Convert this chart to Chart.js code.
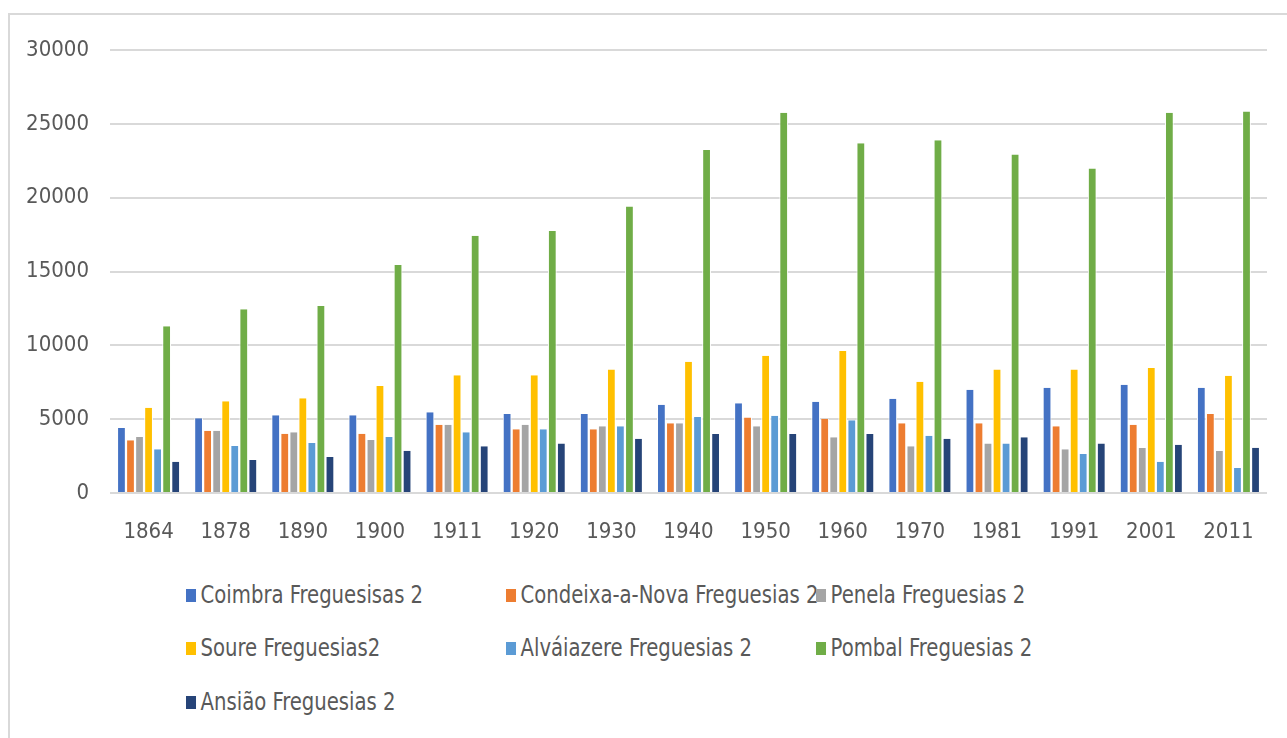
<!DOCTYPE html>
<html>
<head>
<meta charset="utf-8">
<script src="https://cdn.jsdelivr.net/npm/chart.js@4.4.1/dist/chart.umd.min.js"></script>
<style>
  body { margin: 0; background: #fff; width: 1287px; height: 738px; overflow: hidden; position: relative; }
  .frame { position: absolute; left: 8px; top: 13px; width: 1300px; height: 760px; border-left: 2px solid #d9d9d9; border-top: 2px solid #d9d9d9; }
  #wrap { position: absolute; left: 0; top: 0; width: 1287px; height: 560px; }
  .legend { position: absolute; left: 0; top: 0; }
  .legend div { position: absolute; display: flex; align-items: center; white-space: nowrap; transform: scaleX(0.91); transform-origin: left center;
    font-family: "Liberation Sans Narrow", "DejaVu Sans Condensed", sans-serif; font-size: 24px; color: #595959; }
  .legend span.box { display: inline-block; width: 11px; height: 13px; margin-right: 5px; }
</style>
</head>
<body>
<div class="frame"></div>
<div id="wrap"><canvas id="myChart"></canvas></div>
<div class="legend" id="legend"></div>
<script>
const years = ["1864", "1878", "1890", "1900", "1911", "1920", "1930", "1940", "1950", "1960", "1970", "1981", "1991", "2001", "2011"];

const coimbra = [4400, 5060, 5260, 5260, 5460, 5350, 5350, 5980, 6070, 6180, 6390, 6990, 7130, 7330, 7130];
const condeixa = [3570, 4220, 4020, 4020, 4620, 4310, 4310, 4720, 5120, 5030, 4720, 4720, 4520, 4620, 5350];
const penela = [3790, 4220, 4110, 3590, 4620, 4620, 4520, 4720, 4520, 3770, 3160, 3360, 2960, 3050, 2840];
const soure = [5780, 6210, 6410, 7240, 7970, 7970, 8370, 8890, 9300, 9610, 7540, 8370, 8370, 8460, 7940];
const alvaiazere = [2960, 3180, 3390, 3790, 4110, 4310, 4520, 5150, 5230, 4920, 3880, 3360, 2640, 2120, 1690];
const pombal = [11290, 12440, 12660, 15440, 17420, 17740, 19410, 23220, 25750, 23680, 23880, 22930, 21980, 25750, 25840];
const ansiao = [2120, 2230, 2440, 2860, 3160, 3360, 3680, 3990, 3990, 3990, 3680, 3770, 3360, 3270, 3070];

const yTicks = [0, 5000, 10000, 15000, 20000, 25000, 30000];

const fontFamily = '"Liberation Sans Narrow", "DejaVu Sans Condensed", sans-serif';

const series = [
  { label: "Coimbra Freguesisas 2", data: coimbra, color: "#4472c4" },
  { label: "Condeixa-a-Nova Freguesias 2", data: condeixa, color: "#ed7d31" },
  { label: "Penela Freguesias 2", data: penela, color: "#a5a5a5" },
  { label: "Soure Freguesias2", data: soure, color: "#ffc000" },
  { label: "Alváiazere Freguesias 2", data: alvaiazere, color: "#5b9bd5" },
  { label: "Pombal Freguesias 2", data: pombal, color: "#70ad47" },
  { label: "Ansião Freguesias 2", data: ansiao, color: "#264478" },
];

const myChart = document.getElementById("myChart");

const chart = new Chart(myChart, {
  type: "bar",
  data: {
    labels: years,
    datasets: series.map((s) => ({
      label: s.label,
      data: s.data,
      backgroundColor: s.color,
      borderColor: "#ffffff",
      borderWidth: { left: 1, right: 1, top: 0, bottom: 0 },
      barPercentage: 0.97,
      categoryPercentage: 0.82,
    })),
  },
  options: {
    responsive: true,
    maintainAspectRatio: false,
    animation: false,
    layout: { padding: { left: 10, right: 20, top: 50, bottom: 0 } },
    plugins: {
      legend: { display: false },
      tooltip: { enabled: false },
    },
    scales: {
      x: {
        grid: { display: false, drawTicks: false },
        border: { display: false },
        ticks: { color: "#595959", font: { family: fontFamily, size: 22 }, padding: 26, maxRotation: 0 },
        afterFit: (scale) => { scale.height = 67; },
      },
      y: {
        min: 0,
        max: 30000,
        afterBuildTicks: (scale) => { scale.ticks = yTicks.map((v) => ({ value: v })); },
        grid: { color: "#d9d9d9", lineWidth: 2, drawTicks: false },
        border: { display: false },
        ticks: { color: "#595959", font: { family: fontFamily, size: 22 }, padding: 21, callback: (v) => String(v) },
        afterFit: (scale) => { scale.width = 100; },
      },
    },
  },
});

// legend in three columns like the original
const legend = document.getElementById("legend");
const colX = [186, 506, 816];
const rowY = [596, 649, 703];
series.forEach((s, i) => {
  const item = document.createElement("div");
  item.style.left = colX[i % 3] + "px";
  item.style.top = (rowY[Math.floor(i / 3)] - 15) + "px";
  item.innerHTML = `<span class="box" style="background:${s.color}"></span>${s.label}`;
  legend.appendChild(item);
});
</script>
</body>
</html>
